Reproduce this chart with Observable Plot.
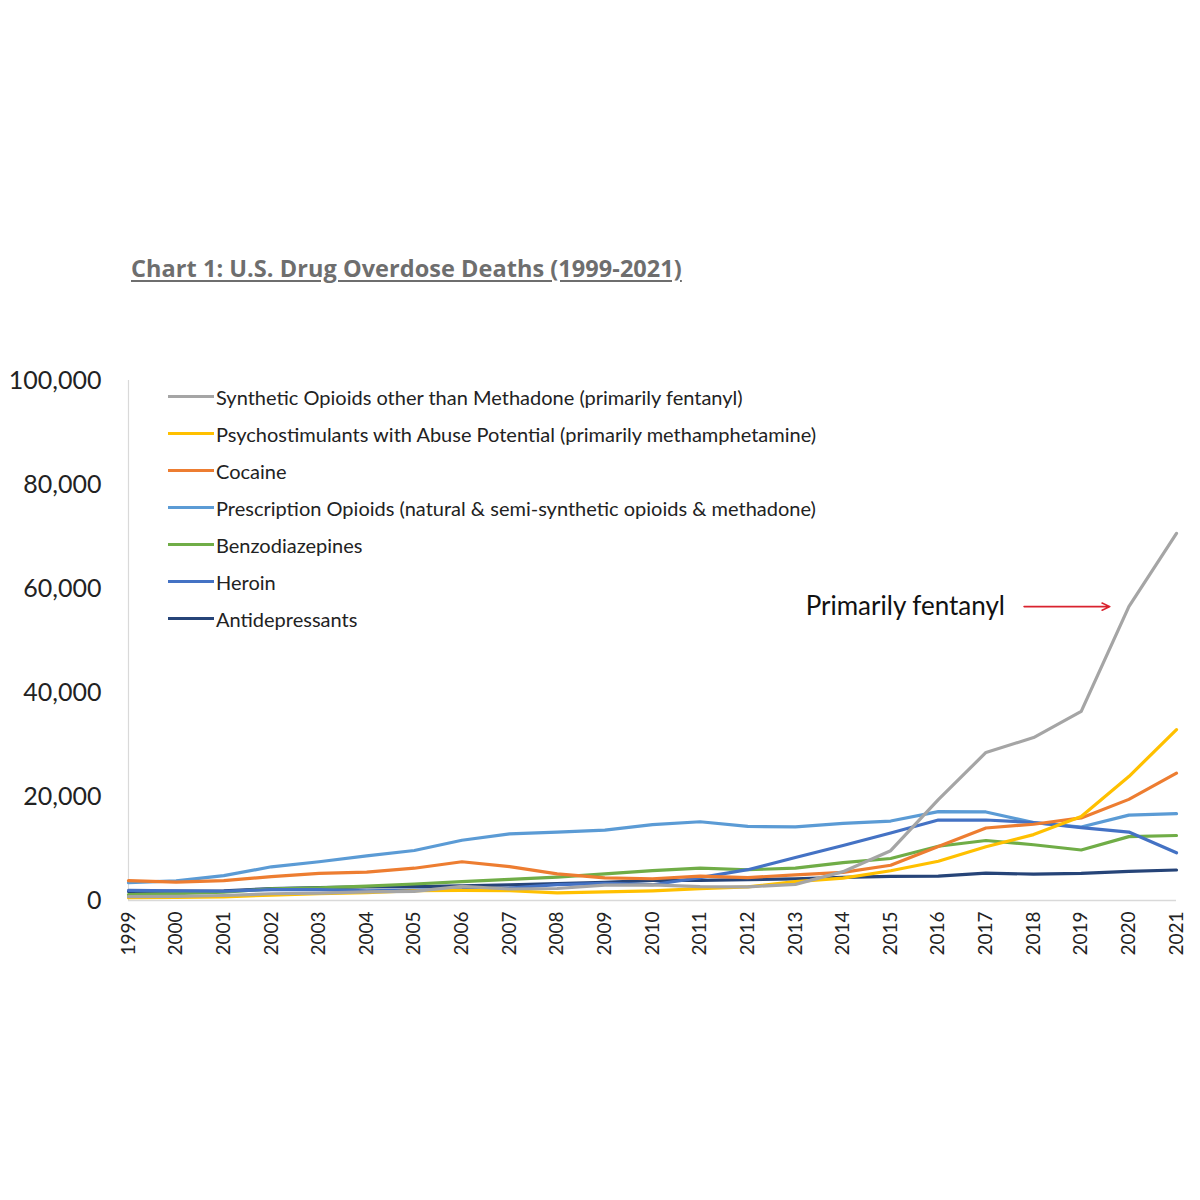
<!DOCTYPE html>
<html>
<head>
<meta charset="utf-8">
<script src="https://cdn.jsdelivr.net/npm/d3@7"></script>
<script src="https://cdn.jsdelivr.net/npm/@observablehq/plot@0.6"></script>
<style>
  html, body { margin: 0; padding: 0; background: #fff; }
  #wrap { position: relative; width: 1200px; height: 1200px; background: #fff; font-family: Lato, "Open Sans", sans-serif; }
  #title { position: absolute; left: 131px; top: 252px; font-family: "Open Sans", Lato, sans-serif; font-weight: 700; font-size: 23.5px; color: #6e6e6e; text-decoration: underline; text-underline-offset: 3px; letter-spacing: 0.05px; white-space: nowrap; }
  #chart { position: absolute; left: 0; top: 360px; }
  #legend { position: absolute; left: 168px; top: 378px; }
  .lg { display: flex; align-items: center; height: 37px; font-size: 20px; color: #222; white-space: nowrap; }
  .sw { width: 46px; height: 3px; margin-right: 2px; }
</style>
</head>
<body>
<div id="wrap">
  <div id="title">Chart 1: U.S. Drug Overdose Deaths (1999-2021)</div>
  <div id="chart"></div>
  <div id="legend"></div>
</div>
<script>
const years = d3.range(1999, 2022);
const seriesNames = [
  "Synthetic Opioids other than Methadone (primarily fentanyl)",
  "Psychostimulants with Abuse Potential (primarily methamphetamine)",
  "Cocaine",
  "Prescription Opioids (natural & semi-synthetic opioids & methadone)",
  "Benzodiazepines",
  "Heroin",
  "Antidepressants"
];
const seriesColors = ["#a5a5a5", "#ffc000", "#ed7d31", "#5b9bd5", "#70ad47", "#4472c4", "#264478"];

const synthetic = [730, 782, 957, 1295, 1400, 1664, 1742, 2707, 2213, 2306, 2946, 3007, 2666, 2628, 3105, 5544, 9580, 19413, 28466, 31335, 36359, 56516, 70601];
const psychostim = [547, 578, 695, 1051, 1294, 1507, 1871, 1965, 1878, 1459, 1641, 1854, 2266, 2635, 3627, 4298, 5716, 7542, 10333, 12676, 16167, 23837, 32856];
const cocaine = [3822, 3544, 3833, 4599, 5199, 5443, 6208, 7448, 6512, 5129, 4350, 4183, 4681, 4404, 4944, 5415, 6784, 10375, 13942, 14666, 15883, 19447, 24486];
const prescription = [3442, 3785, 4770, 6483, 7456, 8577, 9612, 11589, 12796, 13149, 13523, 14583, 15140, 14240, 14145, 14838, 15281, 17087, 17029, 14975, 14139, 16416, 16706];
const benzo = [1135, 1298, 1594, 2248, 2417, 2754, 3172, 3627, 4050, 4502, 5107, 5735, 6242, 5916, 6217, 7300, 8074, 10430, 11537, 10724, 9711, 12290, 12499];
const heroin = [1960, 1842, 1779, 2089, 2080, 1878, 2009, 2088, 2399, 3041, 3278, 3036, 4397, 5925, 8257, 10574, 12989, 15469, 15482, 14996, 14019, 13165, 9173];
const antidep = [1749, 1810, 1845, 2295, 2472, 2620, 2668, 2816, 3005, 3242, 3468, 3889, 3889, 4028, 4174, 4450, 4622, 4705, 5269, 5064, 5198, 5597, 5863];

const yTicks = [0, 20000, 40000, 60000, 80000, 100000];
const annotationText = "Primarily fentanyl";

const allSeries = [synthetic, psychostim, cocaine, prescription, benzo, heroin, antidep];
// draw order: back to front
const drawOrder = [6, 4, 3, 5, 2, 1, 0];
const rows = [];
for (const si of drawOrder) {
  years.forEach((yr, i) => rows.push({series: seriesNames[si], year: yr, value: allSeries[si][i]}));
}

// annotation anchored to the 2020 fentanyl point
const fentIdx = years.indexOf(2020);
const annY = synthetic[fentIdx];
const arrowData = [{x1: 2020 - 2.2, x2: 2020 - 0.4, y: annY}];
const textData = [{x: 2020 - 2.6, y: annY, t: annotationText}];

const chart = Plot.plot({
  width: 1200,
  height: 620,
  marginLeft: 128,
  marginRight: 24,
  marginTop: 20,
  marginBottom: 80,
  style: {fontFamily: "Lato, 'Open Sans', sans-serif", background: "transparent"},
  x: {domain: [1999, 2021]},
  y: {domain: [0, 100000]},
  color: {domain: seriesNames, range: seriesColors},
  marks: [
    Plot.ruleX([1999], {y1: 0, y2: 100000, stroke: "#d9d9d9", strokeWidth: 1.2}),
    Plot.ruleY([0], {stroke: "#d9d9d9", strokeWidth: 1.5}),
    Plot.axisY({ticks: yTicks, tickSize: 0, tickPadding: 27, fontSize: 25, tickFormat: d3.format(","), fill: "#222", label: null}),
    Plot.axisX({ticks: years, tickSize: 0, tickPadding: 11, tickRotate: -90, fontSize: 19, tickFormat: d => String(d), fill: "#222", label: null}),
    Plot.line(rows, {x: "year", y: "value", z: "series", stroke: "series", strokeWidth: 3.2, curve: "linear", strokeLinejoin: "round"}),
    Plot.arrow(arrowData, {x1: "x1", x2: "x2", y1: "y", y2: "y", stroke: "#d9232e", strokeWidth: 1.6, headLength: 8, headAngle: 50}),
    Plot.text(textData, {x: "x", y: "y", text: "t", textAnchor: "end", fontSize: 26, fill: "#111", fontFamily: "Lato, 'Open Sans', sans-serif"})
  ]
});
document.getElementById("chart").appendChild(chart);

const legend = document.getElementById("legend");
seriesNames.forEach((name, i) => {
  const row = document.createElement("div");
  row.className = "lg";
  const sw = document.createElement("div");
  sw.className = "sw";
  sw.style.background = seriesColors[i];
  const tx = document.createElement("span");
  tx.textContent = name;
  row.appendChild(sw);
  row.appendChild(tx);
  legend.appendChild(row);
});
</script>
</body>
</html>
